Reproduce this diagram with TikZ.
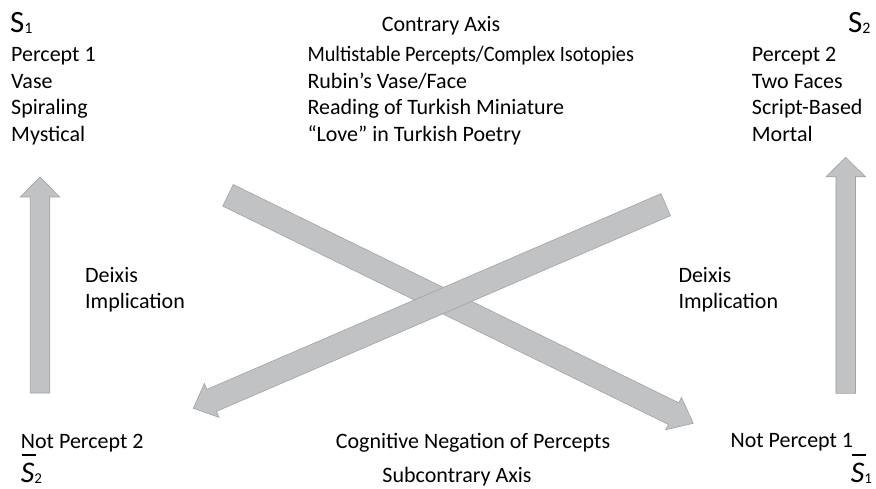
\documentclass[tikz,border=0pt]{standalone}
\usepackage{fontspec}
\setmainfont{Carlito}
\usetikzlibrary{calc}
\definecolor{arrowgray}{RGB}{192,194,196}
\definecolor{arrowedge}{RGB}{160,162,165}
\newcommand\bkarrow[5]{%
  \coordinate (hb) at ($(#2)!#5!(#1)$);
  \filldraw[arrowbody] ($(#1)!#3!-90:(#2)$) -- ($(hb)!#3!90:(#1)$) -- ($(hb)!#4!90:(#1)$) -- (#2)
    -- ($(hb)!#4!-90:(#1)$) -- ($(hb)!#3!-90:(#1)$) -- ($(#1)!#3!90:(#2)$) -- cycle;}
\newcommand\topS[1]{{\fontsize{31}{31}\selectfont S}\raisebox{-1.5pt}{\fontsize{16}{16}\selectfont #1}}
\newcommand\botS[1]{\rlap{\hspace{1pt}\rule[26pt]{14pt}{1.8pt}}{\fontsize{30}{30}\selectfont\itshape S}\raisebox{-1pt}{\fontsize{15}{15}\selectfont #1}}
\tikzset{
  txt/.style={font=\fontsize{22}{26}\selectfont, inner sep=0pt, anchor=base west},
  ctxt/.style={txt, anchor=base},
  rtxt/.style={txt, anchor=base east},
  arrowbody/.style={fill=arrowgray, draw=arrowedge, line width=0.6pt, line join=miter}
}
\begin{document}
\begin{tikzpicture}[x=1pt,y=-1pt]
\useasboundingbox (0,0) rectangle (876,489);
% arrows
\coordinate (la0) at (40,393);
\coordinate (la1) at (40,177);
\coordinate (ra0) at (845.7,393.3);
\coordinate (ra1) at (845.7,157.3);
\coordinate (da0) at (228,195.3);
\coordinate (da1) at (693.3,423.3);
\coordinate (db0) at (665.7,204.7);
\coordinate (db1) at (193.3,408.3);
\bkarrow{la0}{la1}{9.75pt}{19.75pt}{20pt}
\bkarrow{ra0}{ra1}{9.75pt}{19.75pt}{19.5pt}
\bkarrow{da0}{da1}{12pt}{18pt}{22pt}
\bkarrow{db0}{db1}{12pt}{18.5pt}{20pt}
% top left
\node[txt] (s1) at (10,32.3) {\topS{1}};
\node[txt] (p1) at (11,61.7) {Percept 1};
\node[txt] (vase) at (11,88.3) {Vase};
\node[txt] (spir) at (11,115) {Spiraling};
\node[txt] (myst) at (11,141.7) {Mystical};
% top middle
\node[ctxt] (contrary) at (441,31.7) {Contrary Axis};
\node[txt] (multi) at (307.3,61.7) {\scalebox{0.92}[1]{Multistable Percepts/Complex Isotopies}};
\node[txt] (rubin) at (307.3,88.3) {Rubin’s Vase/Face};
\node[txt] (reading) at (307.3,115) {Reading of Turkish Miniature};
\node[txt] (love) at (307.3,141.7) {“Love” in Turkish Poetry};
% top right
\node[txt] (s2) at (848,32.3) {\topS{2}};
\node[txt] (p2) at (751.7,61.7) {Percept 2};
\node[txt] (faces) at (751.7,88.3) {Two Faces};
\node[txt] (script) at (751.7,115) {Script-Based};
\node[txt] (mortal) at (751.7,141.7) {Mortal};
% deixis
\node[txt] (dxl) at (85,282.3) {Deixis};
\node[txt] (iml) at (85,308.3) {Implication};
\node[txt] (dxr) at (678.3,282.3) {Deixis};
\node[txt] (imr) at (678.3,308.3) {Implication};
% bottom
\node[txt] (np2) at (20.7,448.3) {Not Percept 2};
\node[txt] (ns2) at (20.7,482) {\botS{2}};
\node[rtxt] (np1) at (853.3,447) {Not Percept 1};
\node[txt] (ns1) at (850.7,482) {\botS{1}};
\node[ctxt] (cog) at (473,448) {Cognitive Negation of Percepts};
\node[ctxt] (sub) at (457,482) {Subcontrary Axis};
\end{tikzpicture}
\end{document}
